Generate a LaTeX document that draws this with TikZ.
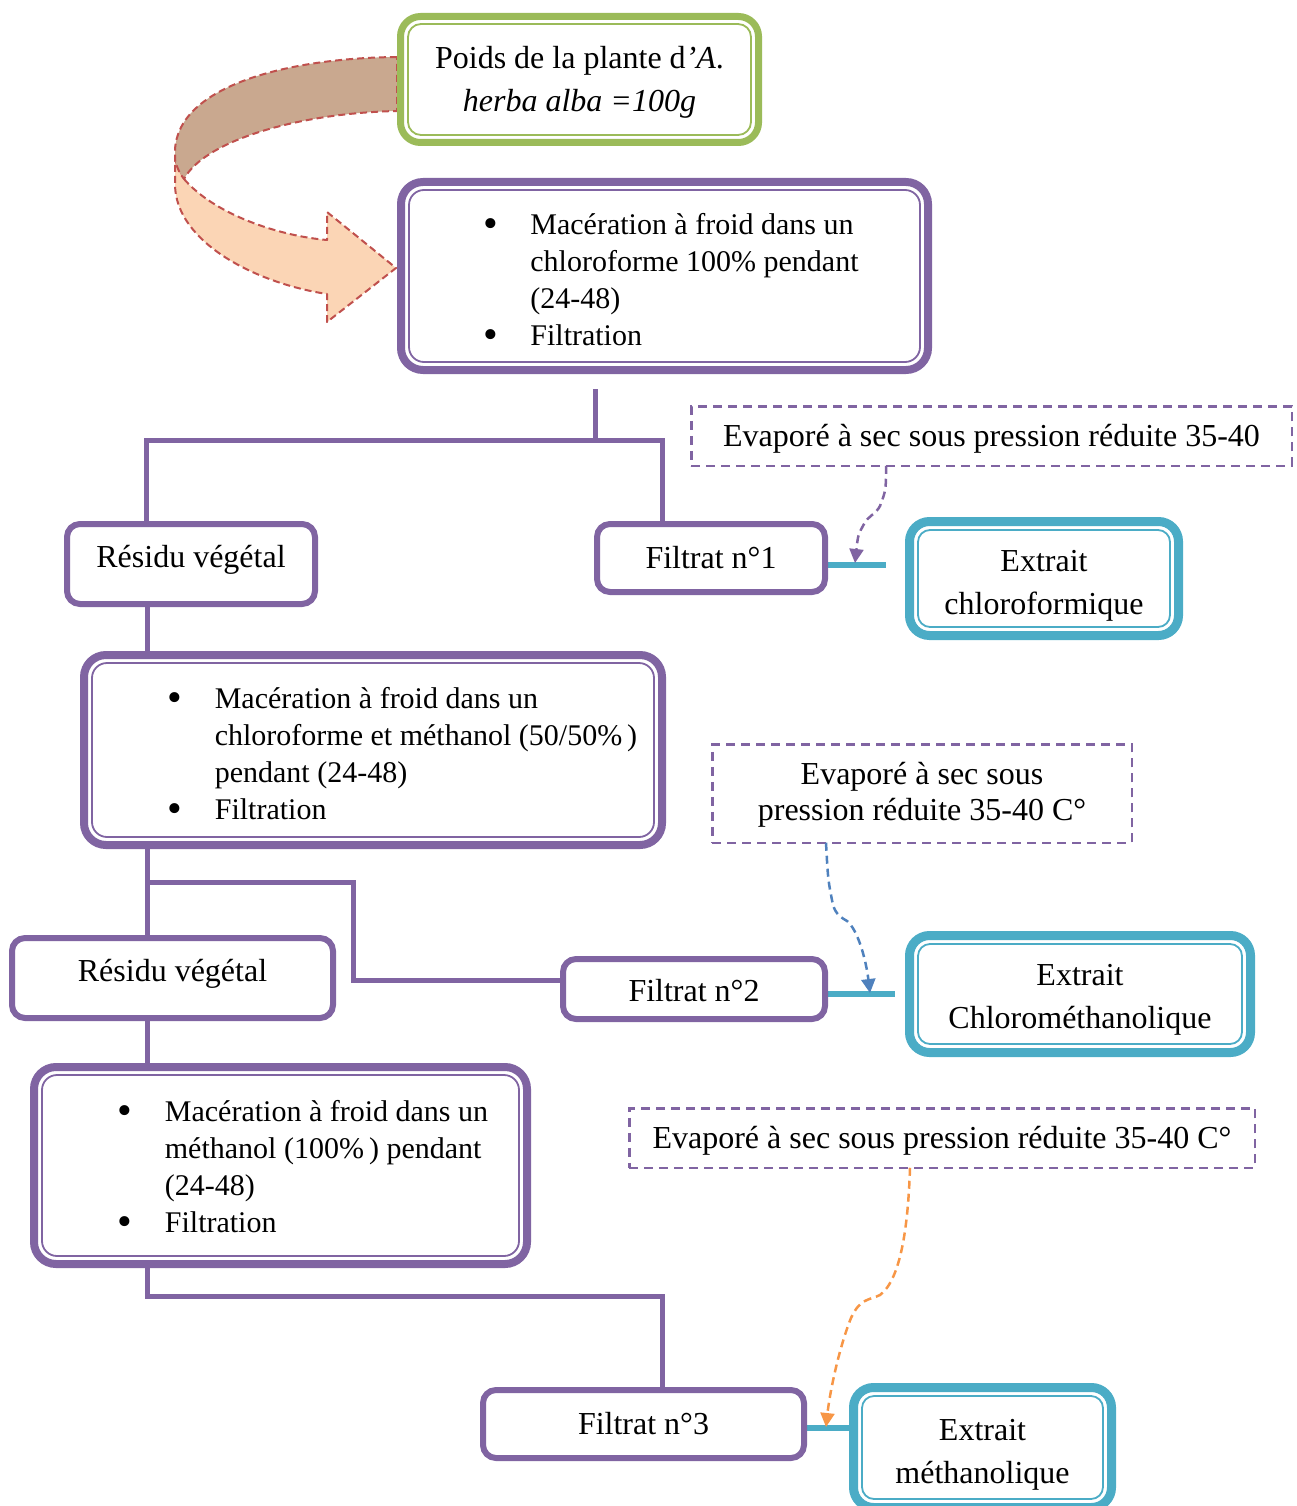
\documentclass[tikz,border=0pt]{standalone}
\usepackage{fontspec}
\setmainfont{Liberation Serif}
\usetikzlibrary{arrows.meta,backgrounds}
\definecolor{cvio}{HTML}{8064A2}
\definecolor{cgrn}{HTML}{9BBB59}
\definecolor{cteal}{HTML}{4BACC6}
\definecolor{cred}{HTML}{C0504D}
\definecolor{cbrown}{HTML}{C9A88F}
\definecolor{cpeach}{HTML}{FBD5B5}
\definecolor{cblue}{HTML}{4F81BD}
\definecolor{corange}{HTML}{F79646}
\newcommand\txtup[2]{\raisebox{#1}[\height][\depth]{#2}}
\newcommand\twol[3]{\raisebox{#1}[\height][\depth]{\begin{tabular}{@{}c@{}}#2\\#3\end{tabular}}}
\newcommand\bul{\raisebox{-3pt}{\scalebox{1.4}{\textbullet}}}
\tikzset{
  base/.style={font=\fontsize{32}{43}\selectfont, outer sep=0pt, inner sep=0pt, align=center, fill=white},
  bigbox/.style={base, font=\fontsize{30}{37}\selectfont, draw=cvio, line width=8pt, rounded corners=22pt},
  smallbox/.style={base, draw=cvio, line width=6pt, rounded corners=13pt},
  extbox/.style={base, draw=cteal, line width=9pt, rounded corners=20pt},
  greenbox/.style={base, draw=cgrn, line width=7pt, rounded corners=20pt},
  dbox/.style={base, draw=cvio, line width=2.5pt, dash pattern=on 9pt off 6pt},
  conn/.style={draw=cvio, line width=5pt},
  tconn/.style={draw=cteal, line width=6pt},
  darr/.style={line width=2.5pt, dash pattern=on 8pt off 5pt, -{Triangle[length=14pt,width=14pt]}},
  ribbon/.style={draw=cred, line width=2pt, dash pattern=on 7pt off 4pt, line join=round},
}
\begin{document}
\begin{tikzpicture}[x=1pt,y=-1pt]
\useasboundingbox (0,0) rectangle (1297,1506);
\clip (0,0) rectangle (1297,1506);

% boxes
\node[greenbox, minimum width=358pt, minimum height=126pt] (poids) at (579.5,79.5)
  {\twol{-2pt}{Poids de la plante d\textit{’A}.}{\textit{herba alba =100g}}};
\node[bigbox, minimum width=527pt, minimum height=188pt] (m1) at (664.5,276)
  {\txtup{-7pt}{\begin{tabular}{@{\hspace{13pt}}p{47pt}@{}l@{}}
   \bul & Macération à froid dans un\\
   & chloroforme 100\% pendant\\
   & (24-48)\\
   \bul & Filtration
   \end{tabular}}};
\node[smallbox, minimum width=248pt, minimum height=80pt] (r1) at (191,564) {\txtup{4pt}{Résidu végétal}};
\node[smallbox, minimum width=228pt, minimum height=68pt] (f1) at (711,558) {Filtrat n°1};
\node[extbox, minimum width=269pt, minimum height=114pt] (e1) at (1044,578.5) {\twol{-6pt}{Extrait}{chloroformique}};
\node[dbox, minimum width=600.5pt, minimum height=59.5pt] (d1) at (991.5,436) {\txtup{-3pt}{Evaporé à sec sous pression réduite 35-40}};

\node[bigbox, minimum width=578pt, minimum height=190pt] (m2) at (373,750)
  {\txtup{-7pt}{\begin{tabular}{@{\hspace{59pt}}p{47pt}@{}l@{}}
   \bul & Macération à froid dans un\\
   & chloroforme et méthanol (50/50\%\,)\\
   & pendant (24-48)\\
   \bul & Filtration
   \end{tabular}}};
\node[dbox, font=\fontsize{32}{36}\selectfont, minimum width=419.5pt, minimum height=98.5pt] (d2) at (922,793.5) {\twol{-2pt}{Evaporé à sec sous}{pression réduite 35-40 C°}};
\node[smallbox, minimum width=321pt, minimum height=80pt] (r2) at (172.5,978) {\txtup{4pt}{Résidu végétal}};
\node[smallbox, minimum width=262pt, minimum height=60pt] (f2) at (694,989) {\txtup{-2pt}{Filtrat n°2}};
\node[extbox, minimum width=341pt, minimum height=117pt] (e2) at (1080,994) {\twol{-4pt}{Extrait}{Chlorométhanolique}};

\node[bigbox, minimum width=493pt, minimum height=197pt] (m3) at (280.5,1165.5)
  {\txtup{-4pt}{\begin{tabular}{@{\hspace{45pt}}p{47pt}@{}l@{}}
   \bul & Macération à froid dans un\\
   & méthanol (100\%\,) pendant\\
   & (24-48)\\
   \bul & Filtration
   \end{tabular}}};
\node[dbox, minimum width=625.5pt, minimum height=59.5pt] (d3) at (942,1138) {\txtup{-3pt}{Evaporé à sec sous pression réduite 35-40 C°}};
\node[smallbox, minimum width=321pt, minimum height=68pt] (f3) at (643.5,1424) {Filtrat n°3};
\node[extbox, minimum width=258pt, minimum height=120pt] (e3) at (982.5,1447.5) {\twol{-6pt}{Extrait}{méthanolique}};

% inner thin borders
\foreach \n/\c/\d/\r in {poids/cgrn/7.5/13, m1/cvio/8/15, m2/cvio/8/15, m3/cvio/8/15, e1/cteal/8.5/12, e2/cteal/8.5/12, e3/cteal/8.5/12}
  \draw[\c, line width=1.8pt, rounded corners=\r pt]
    ([xshift=\d pt, yshift=-\d pt]\n.north west) rectangle ([xshift=-\d pt, yshift=\d pt]\n.south east);

% coordinates
\coordinate (s1) at (595,389);
\coordinate (j1) at (595,440);
\coordinate (a1) at (146,440);
\coordinate (b1) at (662,440);
\coordinate (sp) at (147,0);
\coordinate (a2) at (147,882);
\coordinate (b2) at (353,882);
\coordinate (c2) at (353,980);
\coordinate (a3) at (147,1296);
\coordinate (b3) at (662,1296);
\coordinate (t1) at (886,565);
\coordinate (t2) at (895,994);
\coordinate (t3) at (852,1428);

\begin{pgfonlayer}{background}
% ribbon arrow
\path[fill=cpeach, ribbon] (184,179) .. controls (215,215) and (280,236) .. (327,240)
   -- (327,212) -- (396,268) -- (327,322) -- (327,294)
   .. controls (255,283) and (176,242) .. (175,185) -- (175,160) -- cycle;
\path[fill=cbrown, ribbon] (397,57) .. controls (290,58) and (178,85) .. (175,150)
   -- (175,160) .. controls (177,168) and (180,174) .. (184,179)
   .. controls (205,140) and (300,113) .. (397,111) -- cycle;
% purple connectors
\draw[conn] (s1) -- ([yshift=2pt]j1);
\draw[conn, line join=miter] (r1.north -| a1) -- (a1) -- (b1) -- (f1.north -| b1);
\draw[conn] (r1.south -| sp) -- (m2.north -| sp);
\draw[conn] (m2.south -| sp) -- (r2.north -| sp);
\draw[conn, line join=miter] (a2) -- (b2) -- (c2) -- (f2.west |- c2);
\draw[conn] (r2.south -| sp) -- (m3.north -| sp);
\draw[conn, line join=miter] (m3.south -| sp) -- (a3) -- (b3) -- (f3.north -| b3);
% teal connectors
\draw[tconn] (f1.east |- t1) -- (t1);
\draw[tconn] (f2.east |- t2) -- (t2);
\draw[tconn] (f3.east |- t3) -- (e3.west |- t3);
\end{pgfonlayer}

% dashed arrows
\draw[darr, cvio] (d1.south -| 886,0) .. controls (886,490) .. (880,506)
   .. controls (876,514) and (868,516) .. (864,524)
   .. controls (858,535) .. (855,563);
\draw[darr, cblue] (d2.south -| 826,0) .. controls (828,880) .. (833,905)
   .. controls (836,915) and (842,918) .. (847,921)
   .. controls (858,930) and (866,960) .. (870,993);
\draw[darr, corange] (d3.south -| 910,0) .. controls (908,1230) and (900,1280) .. (880,1295)
   .. controls (870,1300) and (860,1298) .. (851,1318)
   .. controls (840,1345) and (830,1390) .. (826,1427);
\end{tikzpicture}
\end{document}
